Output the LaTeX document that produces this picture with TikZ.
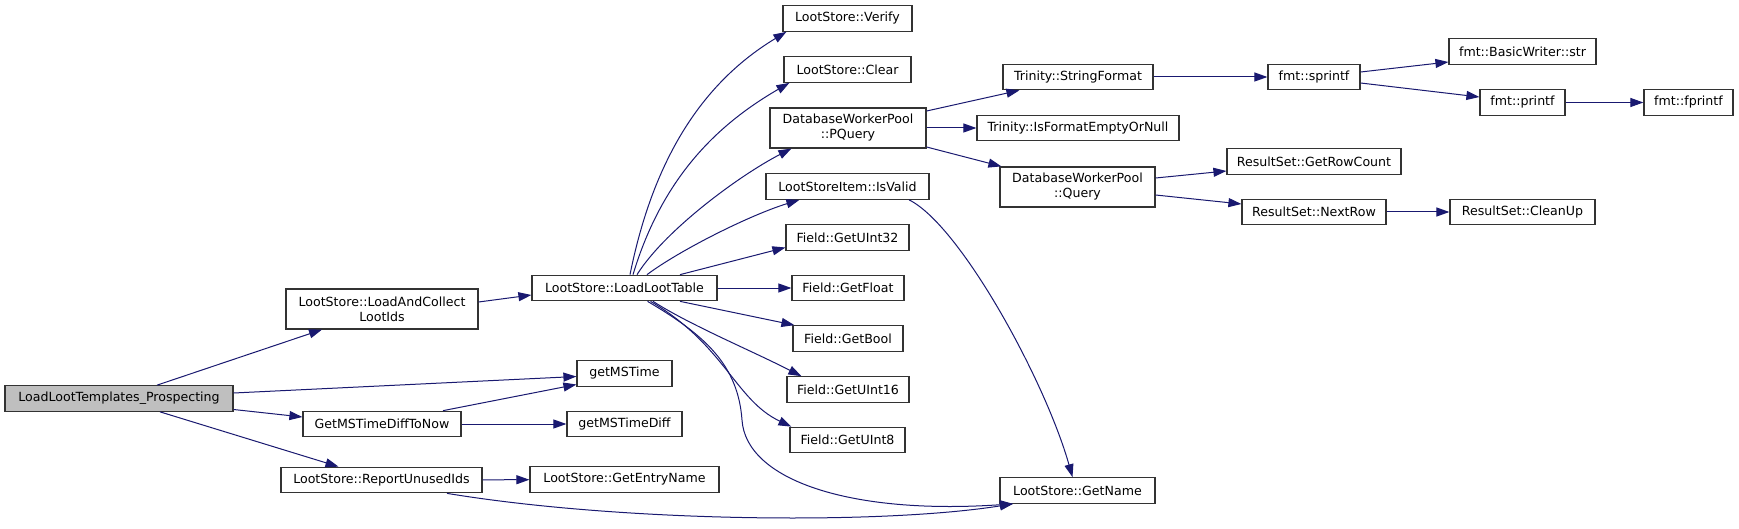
\documentclass[tikz,border=0pt]{standalone}
\usepackage{fontspec}
\setmainfont{DejaVu Sans}
\usetikzlibrary{arrows.meta}
\definecolor{edgeblue}{HTML}{191970}
\definecolor{nodegray}{HTML}{BFBFBF}
\begin{document}
\begin{tikzpicture}[x=1pt,y=-1pt,
  fn/.style={draw=black!80, line width=1.2pt, fill=white, inner sep=0pt,
    minimum height=25.5pt, align=center, font=\fontsize{12.6}{15}\selectfont},
  fn2/.style={fn, minimum height=40pt},
  e/.style={draw=edgeblue, line width=1pt, -{Triangle[length=13pt,width=9pt]}}]
\useasboundingbox[fill=white] (0,0) rectangle (1739,529);

% nodes
\node[fn, fill=nodegray, minimum width=228pt] (lltp) at (119,398.5) {LoadLootTemplates\_Prospecting};
\node[fn2, minimum width=192pt] (lac) at (382,309) {LootStore::LoadAndCollect\\LootIds};
\node[fn, minimum width=158pt] (gmstdtn) at (382,424) {GetMSTimeDiffToNow};
\node[fn, minimum width=201pt] (rui) at (381.5,480) {LootStore::ReportUnusedIds};
\node[fn, minimum width=185pt] (llt) at (624.5,288) {LootStore::LoadLootTable};
\node[fn, minimum width=95pt] (gms) at (624.5,373.5) {getMSTime};
\node[fn, minimum width=115pt] (gmsd) at (624.5,424) {getMSTimeDiff};
\node[fn, minimum width=189pt] (gen) at (624.5,479.5) {LootStore::GetEntryName};
\node[fn, minimum width=129pt] (verify) at (847.5,18.5) {LootStore::Verify};
\node[fn, minimum width=127pt] (clear) at (847.5,69.5) {LootStore::Clear};
\node[fn2, minimum width=156pt] (pquery) at (848,128) {DatabaseWorkerPool\\::PQuery};
\node[fn, minimum width=163pt] (isvalid) at (847.5,186.5) {LootStoreItem::IsValid};
\node[fn, minimum width=123pt] (gu32) at (847.5,237.5) {Field::GetUInt32};
\node[fn, minimum width=112pt] (gfloat) at (848,288) {Field::GetFloat};
\node[fn, minimum width=110pt] (gbool) at (848,338.5) {Field::GetBool};
\node[fn, minimum width=122pt] (gu16) at (848,389.5) {Field::GetUInt16};
\node[fn, minimum width=115pt] (gu8) at (847.5,440) {Field::GetUInt8};
\node[fn, minimum width=150pt] (strf) at (1078,77) {Trinity::StringFormat};
\node[fn, minimum width=202pt] (ifeon) at (1078,128) {Trinity::IsFormatEmptyOrNull};
\node[fn2, minimum width=155pt] (query) at (1077.5,187) {DatabaseWorkerPool\\::Query};
\node[fn, minimum width=155pt] (getname) at (1077.5,490.5) {LootStore::GetName};
\node[fn, minimum width=92pt] (sprintf) at (1314,77) {fmt::sprintf};
\node[fn, minimum width=174pt] (grc) at (1314,161.5) {ResultSet::GetRowCount};
\node[fn, minimum width=144pt] (nextrow) at (1314,212) {ResultSet::NextRow};
\node[fn, minimum width=147pt] (bws) at (1522.5,51.5) {fmt::BasicWriter::str};
\node[fn, minimum width=85pt] (printf) at (1522.5,102.5) {fmt::printf};
\node[fn, minimum width=145pt] (cleanup) at (1522.5,212) {ResultSet::CleanUp};
\node[fn, minimum width=89pt] (fprintf) at (1688.5,102.5) {fmt::fprintf};

% edges from LoadLootTemplates_Prospecting
\draw[e] ([xshift=38pt]lltp.north) -- ([xshift=-60pt]lac.south);
\draw[e] ([yshift=5.5pt]lltp.east) -- ([yshift=-3pt]gms.west);
\draw[e] ([yshift=-11pt]lltp.east) -- ([yshift=7pt]gmstdtn.west);
\draw[e] ([xshift=41pt]lltp.south) -- ([xshift=-43pt]rui.north);

% second column
\draw[e] ([yshift=7pt]lac.east) -- ([yshift=-7pt]llt.west);
\draw[e] ([xshift=61pt]gmstdtn.north) -- ([yshift=-11pt]gms.west);
\draw[e] (gmstdtn) -- (gmsd);
\draw[e] (rui) -- (gen);
\draw[e] ([xshift=65.5pt]rui.south) .. controls (620,522) and (880,525) .. ([xshift=-64.5pt]getname.south);

% LoadLootTable
\draw[e] ([xshift=5.5pt]llt.north) .. controls (654,155) and (705,81) .. ([xshift=4pt]verify.south west);
\draw[e] ([xshift=8.5pt]llt.north) .. controls (663,175) and (720,123) .. ([xshift=6pt]clear.south west);
\draw[e] ([xshift=12.5pt]llt.north) .. controls (665,230) and (740,175) .. ([xshift=22pt]pquery.south west);
\draw[e] ([xshift=22.5pt]llt.north) .. controls (680,250) and (750,215) .. ([xshift=34pt]isvalid.south west);
\draw[e] ([xshift=55.5pt]llt.north) -- ([yshift=-10pt]gu32.west);
\draw[e] (llt) -- (gfloat);
\draw[e] ([xshift=55.5pt]llt.south) -- ([xshift=2pt]gbool.north west);
\draw[e] ([xshift=28.5pt]llt.south) .. controls (690,325) and (750,350) .. ([xshift=15pt]gu16.north west);
\draw[e] ([xshift=26pt]llt.south) .. controls (725,345) and (735,400) .. ([xshift=2pt]gu8.north west);
\draw[e] ([xshift=23pt]llt.south) .. controls (705,335) and (738,365) .. (742,420)
   .. controls (746,480) and (850,515) .. ([xshift=-64.5pt]getname.south);

% PQuery
\draw[e] ([yshift=17pt]pquery.east) -- ([xshift=17pt]strf.south west);
\draw[e] (pquery) -- (ifeon);
\draw[e] ([yshift=-19pt]pquery.east) -- ([xshift=2pt]query.north west);

% IsValid
\draw[e] ([xshift=61.5pt]isvalid.south) .. controls (960,225) and (1045,380) .. ([xshift=-5pt]getname.north);

% right side
\draw[e] (strf) -- (sprintf);
\draw[e] ([yshift=5pt]sprintf.east) -- ([yshift=-10.5pt]bws.west);
\draw[e] ([yshift=-6pt]sprintf.east) -- ([yshift=5.5pt]printf.west);
\draw[e] (printf) -- (fprintf);
\draw[e] ([yshift=9pt]query.east) -- ([yshift=-9.5pt]grc.west);
\draw[e] ([yshift=-8pt]query.east) -- ([yshift=8pt]nextrow.west);
\draw[e] (nextrow) -- (cleanup);
\end{tikzpicture}
\end{document}
